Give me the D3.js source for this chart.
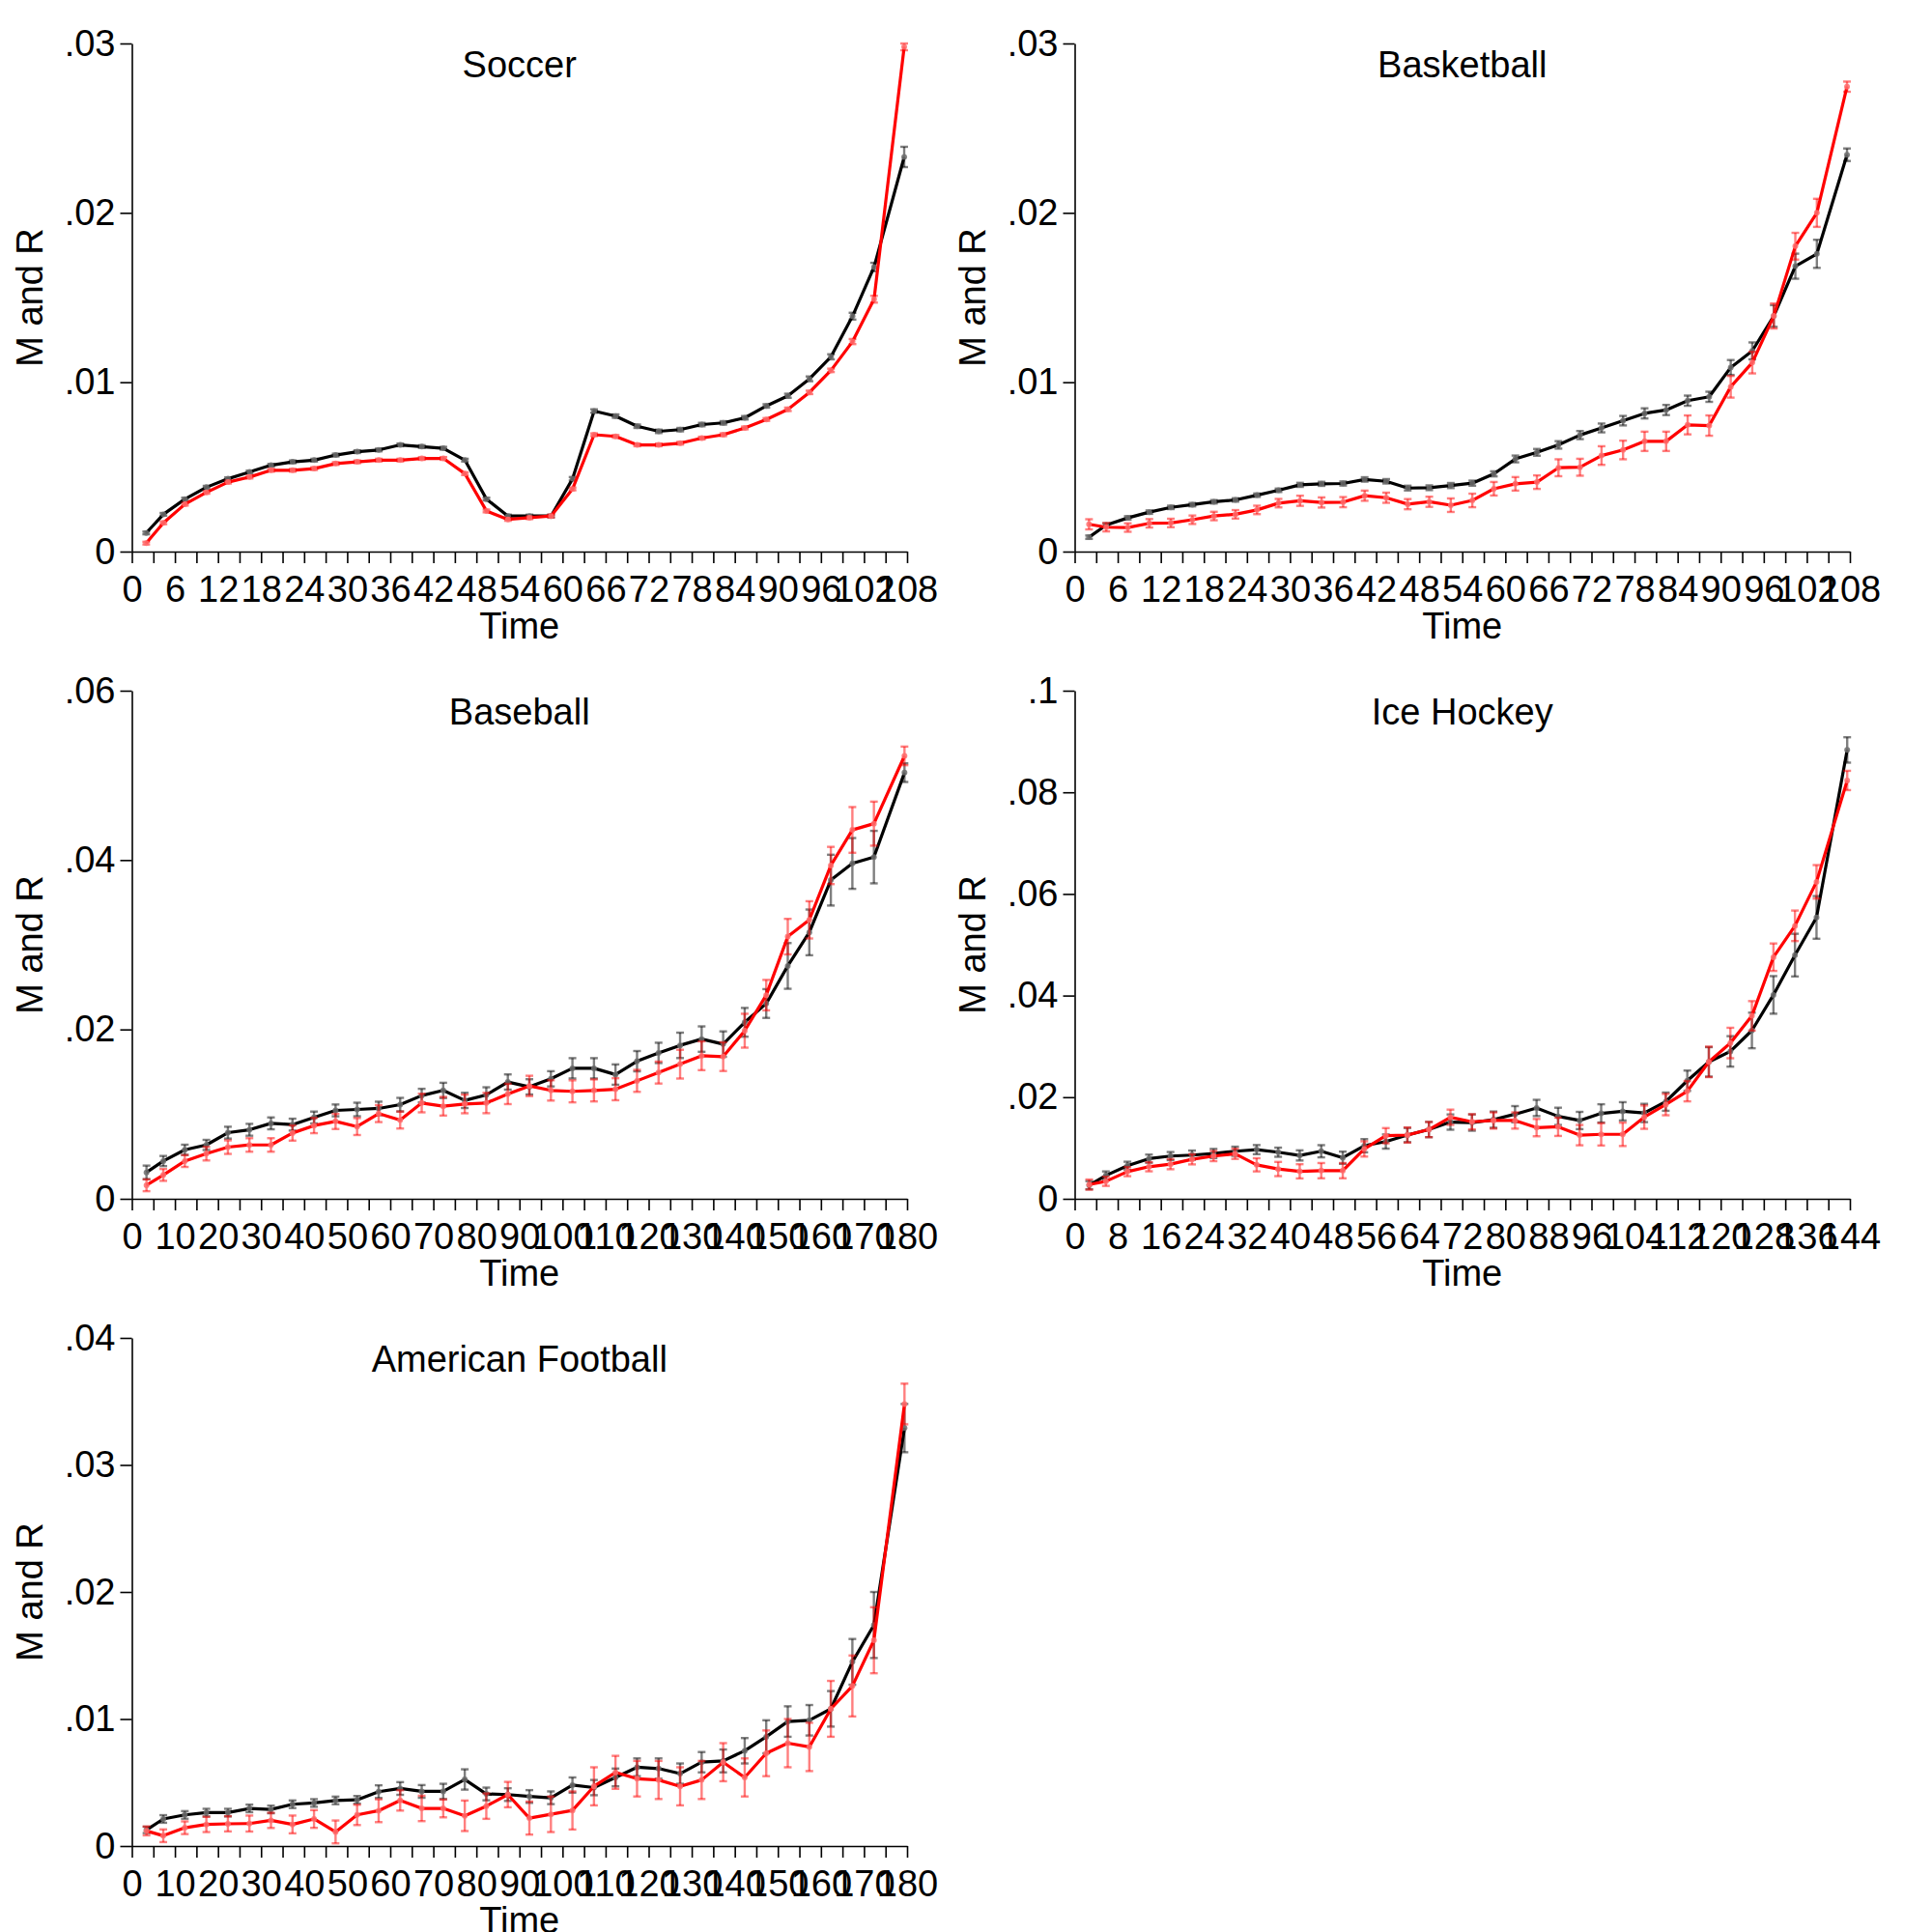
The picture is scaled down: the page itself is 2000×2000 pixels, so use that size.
<!DOCTYPE html>
<html>
<head>
<meta charset="utf-8">
<script src="https://cdn.jsdelivr.net/npm/d3@7"></script>
<style>
  html, body { margin: 0; padding: 0; background: #fff; }
  svg { display: block; }
</style>
</head>
<body>
<svg id="chart" width="2000" height="2000"></svg>
<script>
// ---------------- DATA ----------------
const titles = ["Soccer", "Basketball", "Baseball", "Ice Hockey", "American Football"];

// time positions of the binned points
const timeSoccer = [2.0,4.4,7.4,10.4,13.4,16.4,19.4,22.4,25.4,28.4,31.4,34.4,37.4,40.4,43.4,46.4,49.4,52.4,55.4,58.4,61.4,64.4,67.4,70.4,73.4,76.4,79.4,82.4,85.4,88.4,91.4,94.4,97.4,100.4,103.4,107.6];
const timeBasketball = [2.0,4.4,7.4,10.4,13.4,16.4,19.4,22.4,25.4,28.4,31.4,34.4,37.4,40.4,43.4,46.4,49.4,52.4,55.4,58.4,61.4,64.4,67.4,70.4,73.4,76.4,79.4,82.4,85.4,88.4,91.4,94.4,97.4,100.4,103.4,107.6];
const timeBaseball = [3.4,7.3,12.3,17.3,22.3,27.3,32.3,37.3,42.3,47.3,52.3,57.3,62.3,67.3,72.3,77.3,82.3,87.3,92.3,97.3,102.3,107.3,112.3,117.3,122.3,127.3,132.3,137.3,142.3,147.3,152.3,157.3,162.3,167.3,172.3,179.4];
const timeHockey = [2.7,5.8,9.8,13.8,17.8,21.8,25.8,29.8,33.8,37.8,41.8,45.8,49.8,53.8,57.8,61.8,65.8,69.8,73.8,77.8,81.8,85.8,89.8,93.8,97.8,101.8,105.8,109.8,113.8,117.8,121.8,125.8,129.8,133.8,137.8,143.5];
const timeFootball = [3.4,7.3,12.3,17.3,22.3,27.3,32.3,37.3,42.3,47.3,52.3,57.3,62.3,67.3,72.3,77.3,82.3,87.3,92.3,97.3,102.3,107.3,112.3,117.3,122.3,127.3,132.3,137.3,142.3,147.3,152.3,157.3,162.3,167.3,172.3,179.4];

// M series (black) and R series (red)
const soccerM = [.0011,.0022,.0031,.0038,.0043,.0047,.0051,.0053,.0054,.0057,.0059,.0060,.0063,.0062,.0061,.0054,.0031,.0021,.0021,.0021,.0043,.0083,.0080,.0074,.0071,.0072,.0075,.0076,.0079,.0086,.0092,.0102,.0115,.0139,.0168,.0233];
const soccerR = [.0005,.0017,.0028,.0035,.0041,.0044,.0048,.0048,.0049,.0052,.0053,.0054,.0054,.0055,.0055,.0046,.0024,.0019,.0020,.0021,.0037,.0069,.0068,.0063,.0063,.0064,.0067,.0069,.0073,.0078,.0084,.0094,.0107,.0124,.0149,.0298];
const basketballM = [.00085,.00157,.00199,.00233,.00261,.00277,.00294,.00305,.00333,.00362,.00394,.0040,.00402,.00426,.00415,.00375,.00377,.0039,.00404,.00459,.00547,.00586,.0063,.00688,.0073,.00773,.00816,.00836,.00891,.00914,.01087,.01185,.01391,.01685,.01758,.02343];
const basketballR = [.00161,.00144,.00142,.00167,.00169,.00188,.0021,.0022,.00246,.00286,.003,.0029,.00292,.0033,.00318,.0028,.00294,.00274,.00302,.00371,.004,.0041,.00495,.00498,.00567,.006,.00651,.00651,.00748,.00744,.00973,.01116,.01391,.01803,.02,.02745];
const baseballM = [.00312,.00446,.00579,.00636,.00781,.00815,.00891,.00876,.0096,.01044,.01055,.01067,.01112,.01219,.0128,.01162,.01227,.01379,.01322,.01417,.01541,.01541,.01467,.01625,.01723,.01812,.01886,.01827,.02084,.02306,.0275,.03146,.03763,.0396,.04035,.05032];
const baseballR = [.0016,.00282,.00446,.00533,.0061,.00636,.00636,.00777,.00865,.00914,.00853,.01006,.0093,.01131,.01093,.0112,.01131,.01238,.01333,.0128,.01269,.0128,.01294,.01393,.01491,.0159,.01689,.01679,.01985,.02405,.03096,.03294,.03936,.04356,.0443,.0523];
const hockeyM = [.00268,.00459,.0065,.0079,.00841,.0086,.00892,.00936,.00968,.00917,.00854,.00936,.00809,.01045,.01127,.01255,.01363,.0151,.015,.01558,.01665,.01788,.01623,.01541,.01681,.01722,.01689,.01912,.02324,.02695,.02901,.03313,.04013,.04796,.05538,.08834];
const hockeyR = [.0028,.00344,.00535,.00631,.00682,.00777,.00841,.00885,.00669,.00586,.00541,.00554,.00554,.00981,.01242,.01255,.01363,.01605,.01516,.01541,.01541,.01401,.01417,.01253,.01269,.01269,.01607,.01854,.02118,.02695,.03066,.03601,.04755,.05373,.06238,.08233];
const footballM = [.00127,.00213,.00245,.00263,.00263,.00296,.00288,.00329,.00339,.00359,.00364,.00428,.00453,.0043,.0043,.00524,.0041,.00405,.0039,.0038,.0048,.0046,.0054,.0062,.0061,.0057,.0066,.0067,.0075,.0086,.0098,.0099,.0108,.0145,.0174,.0329];
const footballR = [.00119,.00081,.00144,.0017,.00175,.00177,.00202,.0017,.00213,.00111,.00245,.00278,.00359,.00296,.00296,.00238,.00314,.00405,.0022,.0025,.0028,.0047,.0058,.0053,.0052,.0047,.0052,.0066,.0054,.0073,.0081,.0078,.0108,.0126,.0162,.0348];

// half-widths of the confidence intervals
const soccerMErr = [.00008,.00008,.00008,.00008,.00008,.00008,.00008,.00008,.00008,.00008,.00008,.00008,.00008,.00008,.00008,.00008,.00008,.00008,.00008,.00008,.0001,.0001,.0001,.0001,.0001,.0001,.0001,.0001,.0001,.0001,.00012,.00014,.00015,.0002,.00025,.0006];
const soccerRErr = [.00008,.00008,.00008,.00008,.00008,.00008,.00008,.00008,.00008,.00008,.00008,.00008,.00008,.00008,.00008,.00008,.00008,.00008,.00008,.00008,.00008,.00008,.00008,.00008,.00008,.00008,.00008,.00008,.00008,.00008,.0001,.0001,.0001,.00015,.0002,.0002];
const basketballMErr = [.0001,.0001,.0001,.0001,.0001,.0001,.0001,.0001,.0001,.0001,.00012,.00012,.00012,.00013,.00013,.00014,.00014,.00015,.00015,.00015,.0002,.0002,.00022,.00024,.00026,.00028,.0003,.0003,.0003,.0003,.00044,.0005,.00064,.00074,.00083,.00037];
const basketballRErr = [.0003,.00025,.00025,.00025,.00025,.00025,.00025,.00025,.00025,.00025,.0003,.0003,.0003,.0003,.0003,.0003,.0003,.0004,.0004,.0004,.0004,.0004,.0005,.0005,.00055,.00055,.00057,.00057,.00056,.0006,.00064,.00064,.00074,.00079,.00083,.0003];
const baseballMErr = [.0008,.0006,.0006,.0006,.0007,.0007,.0007,.0007,.0007,.0007,.0008,.0008,.0008,.0008,.0009,.0009,.0009,.0009,.0009,.0009,.0012,.0012,.0012,.0012,.0012,.0015,.0015,.0015,.0017,.0017,.0027,.0027,.003,.003,.0031,.0011];
const baseballRErr = [.0007,.0007,.0007,.0008,.0008,.0008,.0008,.0009,.0009,.0009,.001,.001,.001,.0011,.0011,.0011,.0012,.0012,.0012,.0012,.0013,.0013,.0013,.0013,.0013,.0017,.0017,.0017,.002,.0018,.0021,.0022,.0022,.0027,.0026,.0011];
const hockeyMErr = [.0008,.0008,.0008,.0008,.0008,.0009,.0009,.0009,.0009,.0009,.001,.0012,.0012,.0013,.0014,.0014,.0015,.0015,.0016,.0016,.0016,.0016,.0017,.0017,.0018,.0018,.0018,.0018,.002,.0029,.003,.0035,.0037,.0042,.0042,.0025];
const hockeyRErr = [.001,.0009,.0009,.0009,.001,.001,.001,.001,.0013,.0014,.0014,.0015,.0015,.0015,.0015,.0015,.0015,.0015,.0015,.0016,.0016,.0017,.0018,.002,.0022,.0023,.0023,.0021,.002,.003,.003,.0029,.0027,.003,.0033,.0019];
const footballMErr = [.00025,.0003,.0003,.0003,.0003,.0003,.0003,.0003,.0003,.0003,.0003,.0005,.0005,.0005,.0006,.0008,.0005,.0005,.0005,.0005,.0006,.0006,.0007,.0007,.0008,.0008,.0008,.0009,.001,.0013,.0012,.0012,.0014,.0018,.0026,.0019];
const footballRErr = [.00035,.0005,.0005,.0006,.0006,.00063,.0006,.0007,.0007,.0009,.0008,.0009,.0008,.001,.0007,.0012,.001,.001,.0013,.0014,.0015,.0015,.0013,.0014,.0015,.0015,.0015,.0015,.0015,.0018,.0019,.0019,.0022,.0024,.0026,.0016];

// axis ticks
const yTicksSoccer = [0, .01, .02, .03];
const yTicksBasketball = [0, .01, .02, .03];
const yTicksBaseball = [0, .02, .04, .06];
const yTicksHockey = [0, .02, .04, .06, .08, .1];
const yTicksFootball = [0, .01, .02, .03, .04];
const xLabelsSoccer = [0,6,12,18,24,30,36,42,48,54,60,66,72,78,84,90,96,102,108];
const xLabelsBasketball = [0,6,12,18,24,30,36,42,48,54,60,66,72,78,84,90,96,102,108];
const xLabelsBaseball = [0,10,20,30,40,50,60,70,80,90,100,110,120,130,140,150,160,170,180];
const xLabelsHockey = [0,8,16,24,32,40,48,56,64,72,80,88,96,104,112,120,128,136,144];
const xLabelsFootball = [0,10,20,30,40,50,60,70,80,90,100,110,120,130,140,150,160,170,180];
const xMinorStep = [3, 3, 5, 4, 5];

// ---------------- LAYOUT ----------------
const FONT = "'Liberation Sans', Arial, Helvetica, sans-serif";
const FS = 38;
const COL_W = 976, ROW_H = 670;
const L = 136.5, R = 939, T = 45, B = 571;

const panels = [
  {title: titles[0], col: 0, row: 0, t: timeSoccer, m: soccerM, r: soccerR, me: soccerMErr, re: soccerRErr, yt: yTicksSoccer, xl: xLabelsSoccer, step: xMinorStep[0]},
  {title: titles[1], col: 1, row: 0, t: timeBasketball, m: basketballM, r: basketballR, me: basketballMErr, re: basketballRErr, yt: yTicksBasketball, xl: xLabelsBasketball, step: xMinorStep[1]},
  {title: titles[2], col: 0, row: 1, t: timeBaseball, m: baseballM, r: baseballR, me: baseballMErr, re: baseballRErr, yt: yTicksBaseball, xl: xLabelsBaseball, step: xMinorStep[2]},
  {title: titles[3], col: 1, row: 1, t: timeHockey, m: hockeyM, r: hockeyR, me: hockeyMErr, re: hockeyRErr, yt: yTicksHockey, xl: xLabelsHockey, step: xMinorStep[3]},
  {title: titles[4], col: 0, row: 2, t: timeFootball, m: footballM, r: footballR, me: footballMErr, re: footballRErr, yt: yTicksFootball, xl: xLabelsFootball, step: xMinorStep[4]}
];

const svg = d3.select("#chart");
svg.append("rect").attr("width", 2000).attr("height", 2000).attr("fill", "#fff");

const fmtY = d => d === 0 ? "0" : String(d).replace(/^0\./, ".");

panels.forEach(p => {
  const ox = p.col * COL_W, oy = p.row * ROW_H;
  const xMax = p.xl[p.xl.length - 1];
  const yMax = p.yt[p.yt.length - 1];
  const x = d3.scaleLinear().domain([0, xMax]).range([ox + L, ox + R]);
  const y = d3.scaleLinear().domain([0, yMax]).range([oy + B, oy + T]);
  const g = svg.append("g");

  // x axis
  const minor = d3.range(0, xMax + 0.001, p.step);
  const labelSet = new Set(p.xl);
  const xAxis = d3.axisBottom(x).tickValues(minor).tickSize(12).tickSizeOuter(0).tickPadding(13)
    .tickFormat(d => labelSet.has(d) ? String(d) : "");
  const gx = g.append("g").attr("transform", `translate(0,${oy + B})`).call(xAxis);
  // y axis
  const yAxis = d3.axisLeft(y).tickValues(p.yt).tickSize(12).tickSizeOuter(0).tickPadding(5)
    .tickFormat(fmtY);
  const gy = g.append("g").attr("transform", `translate(${ox + L},0)`).call(yAxis);
  [gx, gy].forEach(a => {
    a.selectAll("path.domain").attr("stroke", "#000").attr("stroke-width", 1.6);
    a.selectAll(".tick line").attr("stroke", "#000").attr("stroke-width", 1.6);
    a.selectAll("text").attr("font-family", FONT).attr("font-size", FS).attr("fill", "#000");
  });

  // titles
  g.append("text").attr("x", ox + (L + R) / 2).attr("y", oy + 80).attr("text-anchor", "middle")
    .attr("font-family", FONT).attr("font-size", FS).text(p.title);
  g.append("text").attr("x", ox + (L + R) / 2).attr("y", oy + 661).attr("text-anchor", "middle")
    .attr("font-family", FONT).attr("font-size", FS).text("Time");
  g.append("text").attr("transform", `translate(${ox + 44},${oy + (T + B) / 2}) rotate(-90)`)
    .attr("text-anchor", "middle").attr("font-family", FONT).attr("font-size", FS).text("M and R");

  const series = [
    {v: p.m, e: p.me, line: "#000000", bar: "rgba(0,0,0,0.5)", dot: "rgba(110,110,110,0.85)"},
    {v: p.r, e: p.re, line: "#ff0000", bar: "rgba(255,0,0,0.5)", dot: "rgba(255,110,110,0.85)"}
  ];
  series.forEach(s => {
    const pts = p.t.map((t, i) => ({t, v: s.v[i], e: s.e[i]}));
    const eb = g.append("g").attr("stroke", s.bar).attr("stroke-width", 2.4).attr("fill", "none");
    pts.forEach(d => {
      const xx = x(d.t), y1 = y(d.v - d.e), y2 = y(d.v + d.e);
      eb.append("line").attr("x1", xx).attr("x2", xx).attr("y1", y1).attr("y2", y2);
      eb.append("line").attr("x1", xx - 4).attr("x2", xx + 4).attr("y1", y1).attr("y2", y1);
      eb.append("line").attr("x1", xx - 4).attr("x2", xx + 4).attr("y1", y2).attr("y2", y2);
    });
    g.append("path").datum(pts)
      .attr("d", d3.line().x(d => x(d.t)).y(d => y(d.v)))
      .attr("fill", "none").attr("stroke", s.line).attr("stroke-width", 3.2).attr("stroke-linejoin", "round");
    g.append("g").selectAll("circle").data(pts).join("circle")
      .attr("cx", d => x(d.t)).attr("cy", d => y(d.v)).attr("r", 3)
      .attr("fill", s.dot);
  });
});
</script>
</body>
</html>
